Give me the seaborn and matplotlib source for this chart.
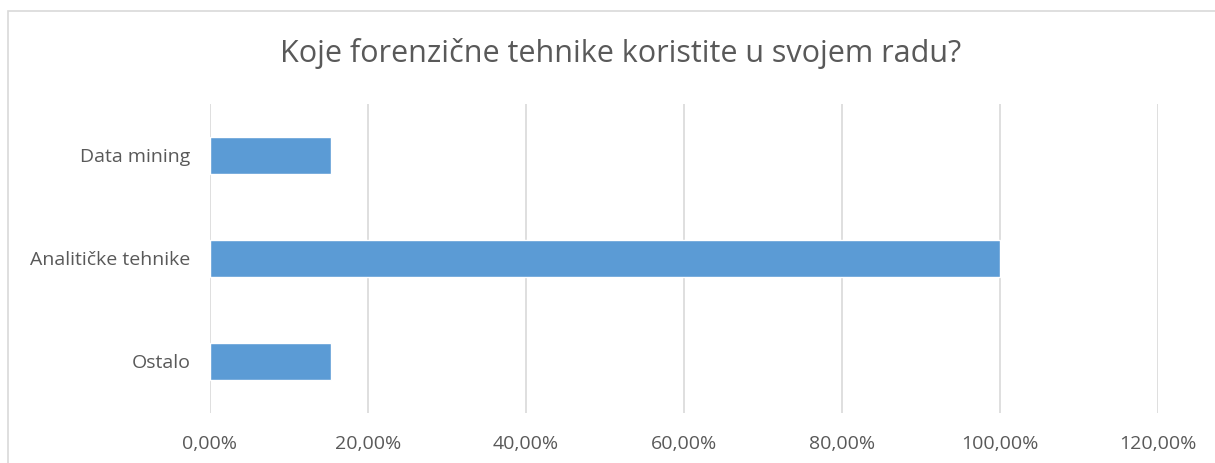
import matplotlib
matplotlib.use("Agg")
import matplotlib.pyplot as plt
import matplotlib.ticker as mticker
from matplotlib.patches import Rectangle
import seaborn as sns
import pandas as pd

# Data
categories = ["Data mining", "Analitičke tehnike", "Ostalo"]
values = [15.38, 100.0, 15.38]
x_ticks = [0, 20, 40, 60, 80, 100, 120]

TITLE = "Koje forenzične tehnike koristite u svojem radu?"
BAR_COLOR = "#5B9BD5"
TEXT_COLOR = "#595959"
GRID_COLOR = "#D9D9D9"

sns.set_theme(style="white")
plt.rcParams['font.family'] = ['Open Sans', 'DejaVu Sans']

df = pd.DataFrame({"Kategorija": categories, "Udio": values})

fig = plt.figure(figsize=(12.15, 4.63), dpi=100)
ax = fig.add_axes([0.1728, 0.108, 0.7803, 0.6674])

sns.barplot(data=df, x="Udio", y="Kategorija", ax=ax, color=BAR_COLOR,
            width=0.35, saturation=1, orient="h")

ax.set_xlim(0, 120)
ax.set_xticks(x_ticks)
ax.xaxis.set_major_formatter(mticker.FuncFormatter(lambda v, p: f"{v:.2f}%".replace(".", ",")))
ax.set_axisbelow(True)
ax.grid(True, axis="x", color=GRID_COLOR, linewidth=1.2)
ax.grid(False, axis="y")
for s in ax.spines.values():
    s.set_visible(False)

ax.set_xlabel("")
ax.set_ylabel("")
ax.tick_params(axis="both", length=0, labelsize=14, colors=TEXT_COLOR)
ax.tick_params(axis="x", pad=16)
ax.tick_params(axis="y", pad=14)

fig.text(0.511, 0.885, TITLE, ha="center", va="center", fontsize=22, color=TEXT_COLOR)

# chart frame (only left/top edges visible in the crop)
fig.patches.append(Rectangle((8 / 1215, -0.1), 1.2, 1 - 11 / 463 + 0.1,
                             transform=fig.transFigure, fill=False,
                             edgecolor=GRID_COLOR, linewidth=1.2))

fig.savefig("out.png", dpi=100)
